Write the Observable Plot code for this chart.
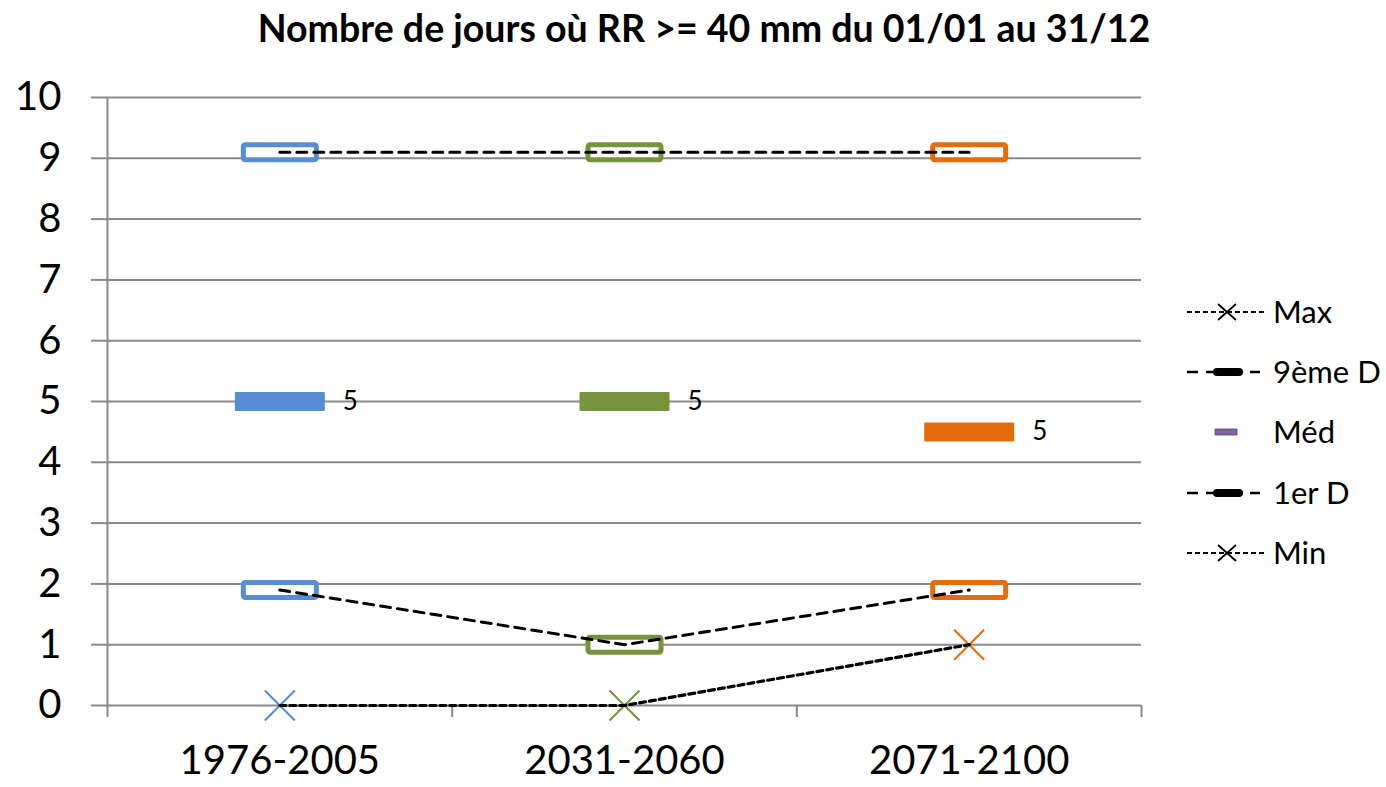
<!DOCTYPE html>
<html>
<head>
<meta charset="utf-8">
<script src="https://cdn.jsdelivr.net/npm/d3@7"></script>
<script src="https://cdn.jsdelivr.net/npm/@observablehq/plot@0.6"></script>
<style>
  html, body { margin: 0; padding: 0; background: #fff; }
  #wrap { position: relative; width: 1386px; height: 787px; font-family: Lato, "Open Sans", sans-serif; }
  #title { height: 60px; line-height: 56px; text-align: center; font-weight: bold; font-size: 37.5px; padding-left: 22px; box-sizing: border-box; white-space: nowrap; }
  #legend { position: absolute; left: 1180px; top: 280px; }
</style>
</head>
<body>
<div id="wrap">
  <div id="title">Nombre de jours où RR &gt;= 40 mm du 01/01 au 31/12</div>
  <div id="chart"></div>
  <svg id="legend" width="206" height="300"></svg>
</div>
<script>
// ---- data ----
const periods = ["1976-2005", "2031-2060", "2071-2100"];
const periodColors = ["#558ED5", "#77933C", "#E46C0A"];
const maxValues = [9.1, 9.1, 9.1];
const decile9 = [9.1, 9.1, 9.1];
const medianValues = [5, 5, 4.5];
const medianLabels = ["5", "5", "5"];
const decile1 = [1.9, 1.0, 1.9];
const minValues = [0, 0, 1];
const yTicks = [0, 1, 2, 3, 4, 5, 6, 7, 8, 9, 10];
const legendItems = ["Max", "9ème D", "Méd", "1er D", "Min"];

const rows = periods.map((p, i) => ({
  period: p, x: i + 0.5, color: periodColors[i],
  max: maxValues[i], d9: decile9[i], med: medianValues[i],
  label: medianLabels[i], d1: decile1[i], min: minValues[i]
}));

function roundRect(w, h, r) {
  return {
    draw(ctx) {
      const x = -w / 2, y = -h / 2;
      ctx.moveTo(x + r, y);
      ctx.lineTo(x + w - r, y);
      ctx.arcTo(x + w, y, x + w, y + r, r);
      ctx.lineTo(x + w, y + h - r);
      ctx.arcTo(x + w, y + h, x + w - r, y + h, r);
      ctx.lineTo(x + r, y + h);
      ctx.arcTo(x, y + h, x, y + h - r, r);
      ctx.lineTo(x, y + r);
      ctx.arcTo(x, y, x + r, y, r);
      ctx.closePath();
    }
  };
}

const gray = "#898989";
const chart = Plot.plot({
  width: 1386,
  height: 727,
  marginTop: 37,
  marginBottom: 82,
  marginLeft: 107,
  marginRight: 245,
  x: { domain: [0, 3] },
  y: { domain: [0, 10] },
  color: { type: "identity" },
  style: { fontFamily: "Lato, 'Open Sans', sans-serif", color: "#000", background: "#fff" },
  marks: [
    Plot.ruleY(yTicks, { stroke: gray, strokeWidth: 2 }),
    Plot.ruleX([0], { stroke: gray, strokeWidth: 2 }),
    Plot.axisY({ ticks: yTicks, tickSize: 16, tickPadding: 30, fontSize: 40, stroke: gray, strokeWidth: 2, label: null, tickFormat: d => String(d) }),
    Plot.axisX({ ticks: [0, 1, 2, 3], tickSize: 12, tickFormat: () => "", stroke: gray, strokeWidth: 2, label: null }),
    Plot.axisX({ ticks: [0.5, 1.5, 2.5], tickSize: 0, tickPadding: 40, fontSize: 40, tickFormat: d => periods[Math.floor(d)], label: null }),
    // 9ème D markers (hollow)
    Plot.dot(rows, { x: "x", y: "d9", symbol: roundRect(73, 15, 2), stroke: "color", fill: "#fff", strokeWidth: 5 }),
    // 1er D markers (hollow)
    Plot.dot(rows, { x: "x", y: "d1", symbol: roundRect(73, 15, 2), stroke: "color", fill: "#fff", strokeWidth: 5 }),
    // median (filled)
    Plot.dot(rows, { x: "x", y: "med", symbol: roundRect(90, 19, 1), fill: "color", stroke: "none" }),
    Plot.text(rows, { x: "x", y: "med", text: "label", dx: 63, textAnchor: "start", fontSize: 26, fill: "#000" }),
    // min markers
    Plot.dot(rows, { x: "x", y: "min", symbol: "times", r: 13.7, stroke: "color", strokeWidth: 2 }),
    // lines
    Plot.line(rows, { x: "x", y: "d9", stroke: "#000", strokeWidth: 3, strokeDasharray: "10,7" }),
    Plot.line(rows, { x: "x", y: "d1", stroke: "#000", strokeWidth: 3, strokeDasharray: "10,7" }),
    Plot.line(rows, { x: "x", y: "min", stroke: "#000", strokeWidth: 3.2, strokeDasharray: "6,4" })
  ]
});
document.getElementById("chart").appendChild(chart);

// ---- legend ----
const lg = d3.select("#legend");
const rowY = [32, 92, 152, 213, 273];
legendItems.forEach((name, i) => {
  const g = lg.append("g").attr("transform", `translate(0,${rowY[i]})`);
  if (name === "Max" || name === "Min") {
    g.append("line").attr("x1", 7).attr("x2", 87).attr("y1", 0).attr("y2", 0)
      .attr("stroke", "#000").attr("stroke-width", 2).attr("stroke-dasharray", "5,3");
    g.append("path").attr("d", "M38,-8L56,8M38,8L56,-8").attr("stroke", "#000").attr("stroke-width", 1.8);
  } else if (name === "Méd") {
    g.append("rect").attr("x", 35).attr("y", -3).attr("width", 22).attr("height", 6)
      .attr("fill", "#8064A2").attr("stroke", "#5f4a7d").attr("stroke-width", 0.8);
  } else {
    g.append("line").attr("x1", 7).attr("x2", 18).attr("y1", 0).attr("y2", 0).attr("stroke", "#000").attr("stroke-width", 2.5);
    g.append("line").attr("x1", 26).attr("x2", 33).attr("y1", 0).attr("y2", 0).attr("stroke", "#000").attr("stroke-width", 2.5);
    g.append("rect").attr("x", 33).attr("y", -4).attr("width", 30).attr("height", 8).attr("rx", 4).attr("fill", "#000");
    g.append("line").attr("x1", 70).attr("x2", 80).attr("y1", 0).attr("y2", 0).attr("stroke", "#000").attr("stroke-width", 2.5);
  }
  g.append("text").attr("x", 93).attr("y", 0).attr("dy", "0.35em")
    .attr("font-size", 31).attr("font-family", "Lato, 'Open Sans', sans-serif").attr("fill", "#000").text(name);
});
</script>
</body>
</html>
